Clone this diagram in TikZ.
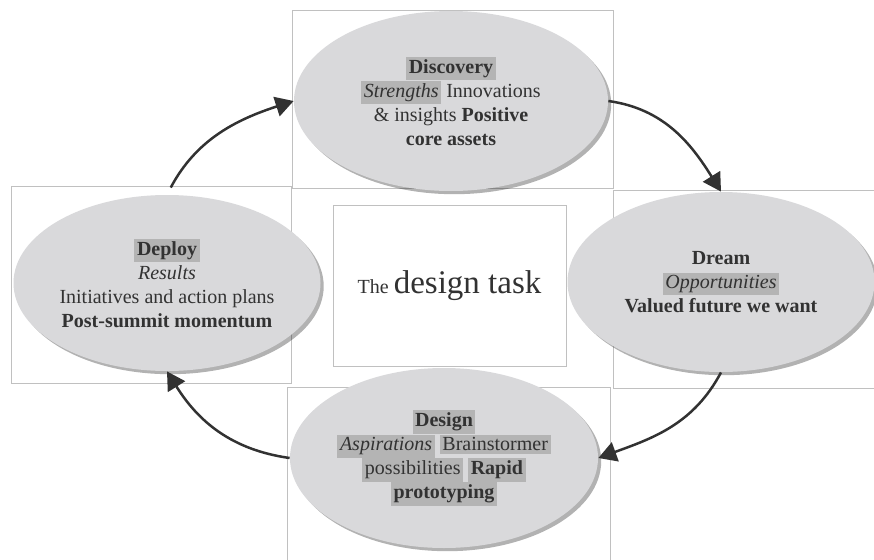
\documentclass[tikz,border=0pt]{standalone}
\usepackage{fontspec}
\setmainfont{Liberation Serif}
\usepackage{tikz}
\usetikzlibrary{shapes.geometric,shadows,arrows.meta}
\definecolor{ellgray}{RGB}{217,217,219}
\definecolor{hlgray}{RGB}{180,180,180}
\definecolor{framegray}{RGB}{192,192,192}
\definecolor{inkgray}{RGB}{50,50,50}
\newcommand{\hlbox}[1]{{\setlength{\fboxsep}{1.3pt}\colorbox{hlgray}{#1}}}
\tikzstyle{phase} = [ellipse, fill=ellgray, inner sep=0pt,
    minimum width=155pt, minimum height=90pt, align=center,
    text=inkgray, font=\fontsize{10}{12}\selectfont,
    drop shadow={shadow xshift=1.6pt, shadow yshift=-1.6pt, fill=black, opacity=0.3}]
\tikzstyle{panel} = [draw=framegray, fill=white, line width=0.5pt]
\tikzstyle{cycle} = [draw=inkgray, line width=1.25pt, -{Triangle[length=9pt, width=10pt]}]

\begin{document}
\begin{tikzpicture}[x=0.5pt, y=0.5pt]
                \useasboundingbox (0,0) rectangle (874,559);
                \draw [panel] (292,549) rectangle (613,371);
                \draw [panel] (11,373) rectangle (291,176);
                \draw [panel] (613,369) rectangle (880,171);
                \draw [panel] (287,172) rectangle (610,-5);
                \node [panel, minimum width=116.5pt, minimum height=80.5pt, text=inkgray,
                    font=\fontsize{10}{12}\selectfont] (task) at (449.5,273.5)
                    {The {\fontsize{16.5}{18}\selectfont design task}};
                \node [phase, minimum width=157pt] (discovery) at (451,458) {%
                    \hlbox{\textbf{Discovery}}\\
                    \hlbox{\textit{Strengths}} Innovations\\
                    \& insights \textbf{Positive}\\
                    \textbf{core assets}};
                \node [phase, minimum width=153.5pt] (dream) at (721,277) {%
                    \textbf{Dream}\\
                    \hlbox{\textit{Opportunities}}\\
                    \textbf{Valued future we want}};
                \node [phase, minimum width=153.5pt, minimum height=88pt] (deploy) at (167,276) {%
                    \hlbox{\textbf{Deploy}}\\
                    \textit{Results}\\
                    Initiatives and action plans\\
                    \textbf{Post-summit momentum}};
                \node [phase, minimum width=154pt] (design) at (444,101) {%
                    \hlbox{\textbf{Design}}\\
                    \hlbox{\textit{Aspirations}} \hlbox{Brainstormer}\\
                    \hlbox{possibilities} \hlbox{\textbf{Rapid}}\\
                    \hlbox{\textbf{prototyping}}};
                \draw [cycle, shorten <=4pt] (deploy.north) to[out=62, in=198] (discovery.west);
                \draw [cycle] (discovery.east) to[out=-8, in=122] (dream.north);
                \draw [cycle] (dream.south) to[out=-118, in=20] (design.east);
                \draw [cycle] (design.west) to[out=172, in=-58] (deploy.south);
            \end{tikzpicture}
\end{document}
